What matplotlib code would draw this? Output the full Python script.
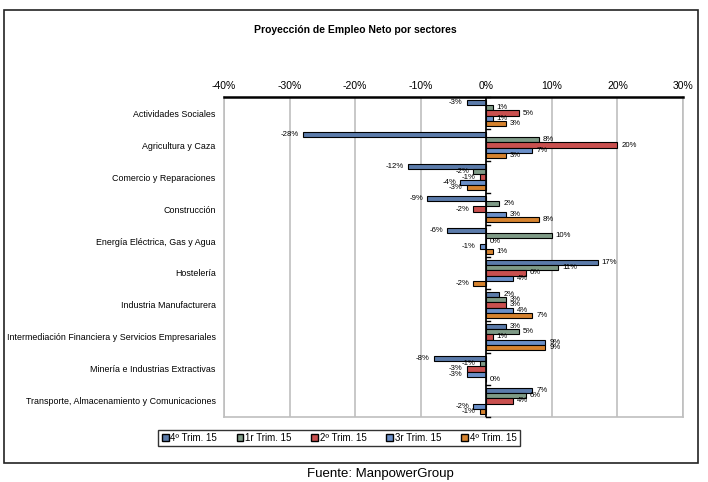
import matplotlib.pyplot as plt
import numpy as np
from matplotlib.patches import Rectangle

plt.rcParams['font.family'] = ['Liberation Sans', 'DejaVu Sans']

sectores = ['Actividades Sociales', 'Agricultura y Caza', 'Comercio y Reparaciones',
            'Construcción', 'Energía Eléctrica, Gas y Agua', 'Hostelería',
            'Industria Manufacturera',
            'Intermediación Financiera y Servicios Empresariales',
            'Minería e Industrias Extractivas',
            'Transporte, Almacenamiento y Comunicaciones']

series_names = ['4º Trim. 15', '1r Trim. 15', '2º Trim. 15', '3r Trim. 15', '4º Trim. 15']
t4_prev = [-3, -28, -12, -9, -6, 17, 2, 3, -8, 7]
t1 = [1, 8, -2, 2, 10, 11, 3, 5, -1, 6]
t2 = [5, 20, -1, -2, 0, 6, 3, 1, -3, 4]
t3 = [1, 7, -4, 3, -1, 4, 4, 9, -3, -2]
t4 = [3, 3, -3, 8, 1, -2, 7, 9, 0, -1]
all_series = [t4_prev, t1, t2, t3, t4]
colors = ['#5B7BAA', '#7E9A86', '#C9504F', '#6A8FC8', '#D6832F']

fig = plt.figure(figsize=(7.08, 4.82), dpi=100)
ax = fig.add_axes([224 / 708, 1 - 417 / 482, (683 - 224) / 708, 320 / 482])

n = len(sectores)
y = np.arange(n)
bh = 0.165
for i, (vals, c) in enumerate(zip(all_series, colors)):
    pos = y - 2 * bh + i * bh
    ax.barh(pos, vals, height=bh, color=c, edgecolor='black', linewidth=0.8, zorder=3)
    for p, v in zip(pos, vals):
        if v >= 0:
            ax.text(v + 0.6, p, f'{v}%', va='center', ha='left', fontsize=5.6, zorder=4)
        else:
            ax.text(v - 0.6, p, f'{v}%', va='center', ha='right', fontsize=5.6, zorder=4)

ax.set_xlim(-40, 30)
ax.set_ylim(n - 0.5, -0.5)
ax.set_xticks(np.arange(-40, 31, 10))
ax.set_xticklabels([f'{t}%' for t in range(-40, 31, 10)], fontsize=7.5)
ax.xaxis.tick_top()
ax.tick_params(axis='x', length=0, pad=4)
ax.set_yticks(y)
ax.set_yticklabels(sectores, fontsize=6.4)
ax.tick_params(axis='y', length=0, pad=6)
ax.grid(axis='x', color='#BFBFBF', linewidth=1.2, zorder=0)
for s in ['left', 'right', 'bottom']:
    ax.spines[s].set_color('#BFBFBF')
    ax.spines[s].set_linewidth(1.2)
ax.spines['top'].set_color('black')
ax.spines['top'].set_linewidth(1.8)

# category axis at zero
ax.axvline(0, color='black', linewidth=1.2, zorder=5)
for b in np.arange(-0.5, n, 1):
    ax.plot([0, 0.6], [b, b], color='black', linewidth=1.0, zorder=5, clip_on=False)

fig.text(355 / 708, 1 - 30 / 482, 'Proyección de Empleo Neto por sectores',
         ha='center', va='center', fontsize=7.5, fontweight='bold')

handles = [Rectangle((0, 0), 1, 1, facecolor=c, edgecolor='black', linewidth=1) for c in colors]
leg = fig.legend(handles, series_names, loc='center', bbox_to_anchor=(339 / 708, 1 - 438 / 482),
                 ncol=5, fontsize=7, frameon=True, fancybox=False, handlelength=0.7,
                 handleheight=0.7, handletextpad=0.2, columnspacing=2.0, borderpad=0.35)
leg.get_frame().set_edgecolor('black')
leg.get_frame().set_linewidth(1.0)

# outer frame
frame = Rectangle((4 / 708, 1 - 463 / 482), (698 - 4) / 708, (463 - 10) / 482,
                  transform=fig.transFigure, fill=False, edgecolor='#222222', linewidth=1.2)
fig.patches.append(frame)

fig.text(380 / 708, 1 - 474 / 482, 'Fuente: ManpowerGroup', ha='center', va='center', fontsize=9.5)

fig.savefig('out.png', dpi=100)
